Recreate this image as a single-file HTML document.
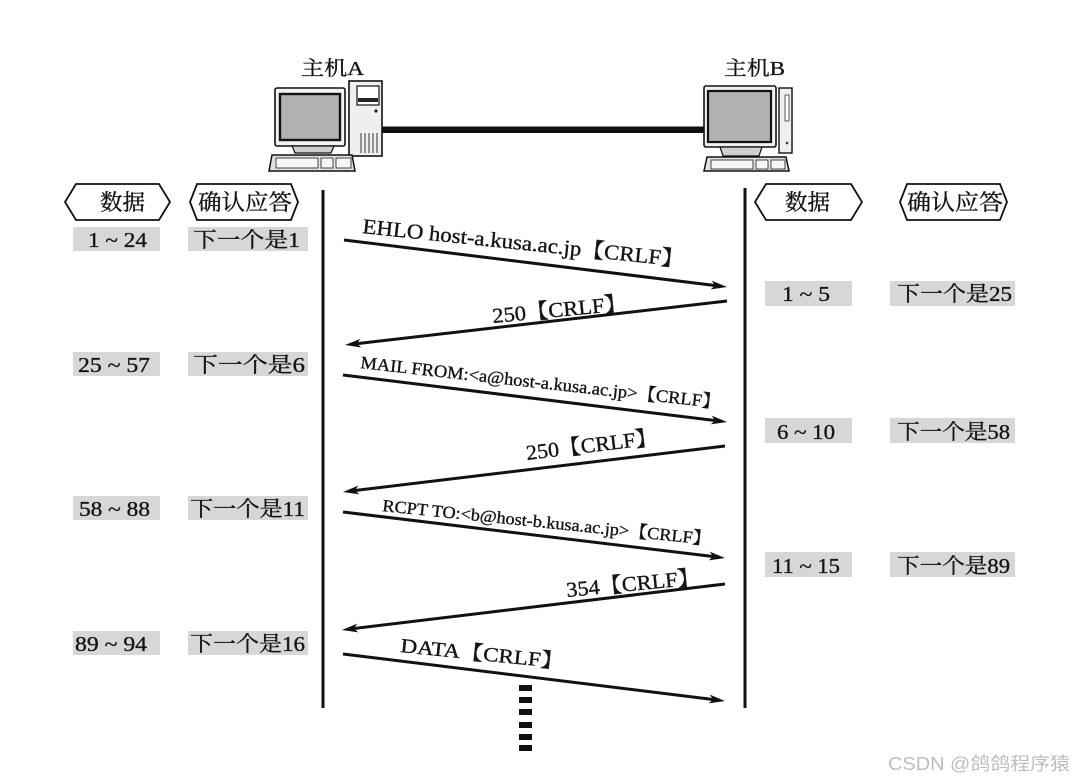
<!DOCTYPE html>
<html>
<head>
<meta charset="utf-8">
<style>
  html,body{margin:0;padding:0;background:#fff;}
  svg{display:block;}
  .s{font-family:"Liberation Serif","Noto Serif CJK SC",serif;fill:#151515;stroke:#151515;stroke-width:0.35;}
  .w{font-family:"Liberation Sans","Noto Sans CJK SC",sans-serif;fill:#bdbdbd;}
</style>
</head>
<body>
<svg width="1073" height="782" viewBox="0 0 1073 782" xmlns="http://www.w3.org/2000/svg">
  <defs>
    <marker id="ah" markerUnits="userSpaceOnUse" markerWidth="16" markerHeight="10" viewBox="0 0 16 10" refX="8" refY="5" orient="auto">
      <path d="M0,0.6 L16,5 L0,9.4 L4,5 Z" fill="#111"/>
    </marker>
  </defs>
  <rect width="1073" height="782" fill="#fff"/>

  <!-- Host labels -->
  <text class="s" x="301" y="75" font-size="20" textLength="63" lengthAdjust="spacingAndGlyphs">主机A</text>
  <text class="s" x="724" y="75" font-size="20" textLength="61" lengthAdjust="spacingAndGlyphs">主机B</text>

  <!-- Host A computer -->
  <rect x="349" y="81" width="33" height="75" fill="#efefef" stroke="#111" stroke-width="1.6"/>
  <rect x="357" y="86" width="22" height="19" fill="#fff" stroke="#111" stroke-width="1.2"/>
  <rect x="358" y="98" width="20" height="4" fill="#222"/>
  <circle cx="376" cy="111" r="1.6" fill="#222"/>
  <g stroke="#333" stroke-width="1">
    <line x1="361" y1="133" x2="361" y2="153"/>
    <line x1="365" y1="133" x2="365" y2="153"/>
    <line x1="369" y1="133" x2="369" y2="153"/>
    <line x1="373" y1="133" x2="373" y2="153"/>
    <line x1="377" y1="133" x2="377" y2="153"/>
  </g>
  <rect x="275" y="88" width="70" height="58" rx="2" fill="#f2f2f2" stroke="#111" stroke-width="1.6"/>
  <rect x="280" y="94" width="60" height="46" fill="#b2b2b2" stroke="#111" stroke-width="2.4"/>
  <polygon points="292,146 334,146 331,153 295,153" fill="#cfcfcf" stroke="#111" stroke-width="1.2"/>
  <polygon points="272,155 352,155 355,171 269,171" fill="#e2e2e2" stroke="#111" stroke-width="1.5"/>
  <rect x="276" y="158" width="42" height="10" fill="#f6f6f6" stroke="#333" stroke-width="0.9"/>
  <rect x="321" y="158" width="12" height="10" fill="#f6f6f6" stroke="#333" stroke-width="0.9"/>
  <rect x="336" y="158" width="15" height="10" fill="#f6f6f6" stroke="#333" stroke-width="0.9"/>

  <!-- Cable -->
  <rect x="382" y="126.5" width="323" height="6.5" fill="#111"/>

  <!-- Host B computer -->
  <rect x="779" y="88" width="13" height="65" fill="#efefef" stroke="#111" stroke-width="1.4"/>
  <rect x="785" y="95" width="4" height="26" fill="#fff" stroke="#333" stroke-width="0.8"/>
  <circle cx="787" cy="143" r="1.3" fill="#333"/>
  <rect x="704" y="86" width="72" height="61" rx="2" fill="#f2f2f2" stroke="#111" stroke-width="1.6"/>
  <rect x="708" y="91" width="63" height="51" fill="#b2b2b2" stroke="#111" stroke-width="2.2"/>
  <polygon points="720,147 762,147 759,156 723,156" fill="#cfcfcf" stroke="#111" stroke-width="1.2"/>
  <polygon points="707,157 786,157 789,171 704,171" fill="#e2e2e2" stroke="#111" stroke-width="1.5"/>
  <rect x="711" y="160" width="42" height="9" fill="#f6f6f6" stroke="#333" stroke-width="0.9"/>
  <rect x="756" y="160" width="12" height="9" fill="#f6f6f6" stroke="#333" stroke-width="0.9"/>
  <rect x="771" y="160" width="14" height="9" fill="#f6f6f6" stroke="#333" stroke-width="0.9"/>

  <!-- Header hexagons -->
  <g fill="#fff" stroke="#111" stroke-width="1.8">
    <polygon points="65,202 76,184 159,184 170,202 159,220 76,220"/>
    <polygon points="190,202 197,184 291,184 298,202 291,220 197,220"/>
    <polygon points="755,202 766,184 851,184 862,202 851,220 766,220"/>
    <polygon points="900,202 907,184 1000,184 1007,202 1000,220 907,220"/>
  </g>
  <text class="s" x="100" y="210" font-size="22" textLength="45" lengthAdjust="spacingAndGlyphs">数据</text>
  <text class="s" x="198" y="210" font-size="22" textLength="94" lengthAdjust="spacingAndGlyphs">确认应答</text>
  <text class="s" x="785" y="210" font-size="22" textLength="45" lengthAdjust="spacingAndGlyphs">数据</text>
  <text class="s" x="907" y="210" font-size="22" textLength="96" lengthAdjust="spacingAndGlyphs">确认应答</text>

  <!-- Gray boxes -->
  <g fill="#d7d7d7">
    <rect x="73" y="227" width="87" height="24"/>
    <rect x="188" y="227" width="120" height="24"/>
    <rect x="73" y="352" width="87" height="24"/>
    <rect x="188" y="352" width="120" height="24"/>
    <rect x="73" y="496" width="87" height="24"/>
    <rect x="188" y="496" width="120" height="24"/>
    <rect x="73" y="631" width="87" height="24"/>
    <rect x="188" y="631" width="120" height="24"/>
    <rect x="765" y="281" width="87" height="25"/>
    <rect x="890" y="281" width="125" height="25"/>
    <rect x="765" y="418" width="87" height="25"/>
    <rect x="890" y="418" width="125" height="25"/>
    <rect x="765" y="552" width="87" height="25"/>
    <rect x="890" y="552" width="125" height="25"/>
  </g>

  <text class="s" x="88" y="247" font-size="21" textLength="59" lengthAdjust="spacingAndGlyphs">1 ~ 24</text>
  <text class="s" x="193" y="247" font-size="21" textLength="107" lengthAdjust="spacingAndGlyphs">下一个是1</text>
  <text class="s" x="78" y="372" font-size="21" textLength="72" lengthAdjust="spacingAndGlyphs">25 ~ 57</text>
  <text class="s" x="193" y="372" font-size="21" textLength="112" lengthAdjust="spacingAndGlyphs">下一个是6</text>
  <text class="s" x="79" y="516" font-size="21" textLength="71" lengthAdjust="spacingAndGlyphs">58 ~ 88</text>
  <text class="s" x="190" y="516" font-size="21" textLength="115" lengthAdjust="spacingAndGlyphs">下一个是11</text>
  <text class="s" x="75" y="651" font-size="21" textLength="72" lengthAdjust="spacingAndGlyphs">89 ~ 94</text>
  <text class="s" x="190" y="651" font-size="21" textLength="115" lengthAdjust="spacingAndGlyphs">下一个是16</text>

  <text class="s" x="782" y="301" font-size="21" textLength="48" lengthAdjust="spacingAndGlyphs">1 ~ 5</text>
  <text class="s" x="897" y="301" font-size="21" textLength="115" lengthAdjust="spacingAndGlyphs">下一个是25</text>
  <text class="s" x="777" y="439" font-size="21" textLength="58" lengthAdjust="spacingAndGlyphs">6 ~ 10</text>
  <text class="s" x="897" y="439" font-size="21" textLength="113" lengthAdjust="spacingAndGlyphs">下一个是58</text>
  <text class="s" x="772" y="573" font-size="21" textLength="68" lengthAdjust="spacingAndGlyphs">11 ~ 15</text>
  <text class="s" x="897" y="573" font-size="21" textLength="113" lengthAdjust="spacingAndGlyphs">下一个是89</text>

  <!-- Vertical timelines -->
  <rect x="321.5" y="190" width="3" height="518" fill="#111"/>
  <rect x="743.5" y="188" width="3" height="520" fill="#111"/>

  <!-- Arrows -->
  <g stroke="#111" stroke-width="3" marker-end="url(#ah)" fill="none">
    <line x1="344" y1="240" x2="719.1" y2="286.0"/>
    <line x1="727" y1="301" x2="352.9" y2="344.1"/>
    <line x1="343" y1="375" x2="719.1" y2="421.0"/>
    <line x1="725" y1="446" x2="350.9" y2="491.0"/>
    <line x1="343" y1="512" x2="717.1" y2="557.0"/>
    <line x1="725" y1="584" x2="349.9" y2="629.0"/>
    <line x1="343" y1="654" x2="717.1" y2="700.0"/>
  </g>

  <!-- Arrow labels -->
  <text class="s" transform="translate(362,233) rotate(6)" font-size="21" textLength="323" lengthAdjust="spacingAndGlyphs">EHLO host-a.kusa.ac.jp【CRLF】</text>
  <text class="s" transform="translate(493,323) rotate(-5.5)" font-size="21" textLength="135" lengthAdjust="spacingAndGlyphs">250【CRLF】</text>
  <text class="s" transform="translate(360,368) rotate(6.4)" font-size="17.5" textLength="362" lengthAdjust="spacingAndGlyphs">MAIL FROM:&lt;a@host-a.kusa.ac.jp&gt;【CRLF】</text>
  <text class="s" transform="translate(527,460) rotate(-7)" font-size="21" textLength="132" lengthAdjust="spacingAndGlyphs">250【CRLF】</text>
  <text class="s" transform="translate(382,511) rotate(5.9)" font-size="17" textLength="330" lengthAdjust="spacingAndGlyphs">RCPT TO:&lt;b@host-b.kusa.ac.jp&gt;【CRLF】</text>
  <text class="s" transform="translate(567,597) rotate(-5.5)" font-size="21" textLength="134" lengthAdjust="spacingAndGlyphs">354【CRLF】</text>
  <text class="s" transform="translate(400,652) rotate(5.8)" font-size="20" textLength="164" lengthAdjust="spacingAndGlyphs">DATA【CRLF】</text>

  <!-- Continuation dashes -->
  <g fill="#111">
    <rect x="519" y="685" width="13" height="6"/>
    <rect x="519" y="697" width="13" height="6"/>
    <rect x="519" y="709" width="13" height="6"/>
    <rect x="519" y="722" width="13" height="6"/>
    <rect x="519" y="734" width="13" height="6"/>
    <rect x="519" y="745" width="13" height="6"/>
  </g>

  <!-- Watermark -->
  <text class="w" x="888" y="770" font-size="18" textLength="182" lengthAdjust="spacingAndGlyphs">CSDN @鸽鸽程序猿</text>
</svg>
</body>
</html>
